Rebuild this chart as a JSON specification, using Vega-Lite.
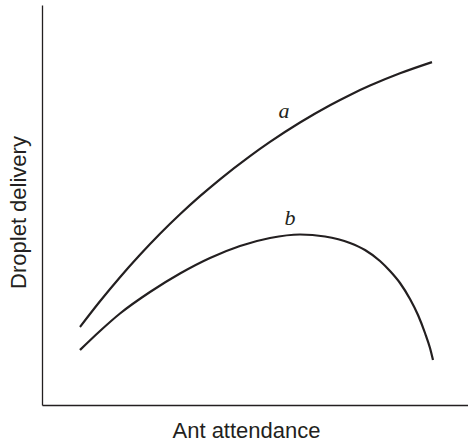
{
  "$schema": "https://vega.github.io/schema/vega-lite/v6.json",
  "autosize": "none",
  "width": 426,
  "height": 400,
  "padding": {"left": 42, "top": 5, "right": 0, "bottom": 40},
  "background": "white",
  "config": {
    "view": {"stroke": null},
    "axis": {
      "grid": false, "ticks": false, "labels": false,
      "domainColor": "#231f20", "domainWidth": 1.3,
      "titleFont": "Liberation Sans", "titleFontSize": 22, "titleFontWeight": "normal", "titleColor": "#231f20"
    }
  },
  "datasets": {
    "curves": [
      {"curve": "a", "att": 38, "del": 78},
      {"curve": "a", "att": 58, "del": 103.7},
      {"curve": "a", "att": 78, "del": 127.8},
      {"curve": "a", "att": 98, "del": 150.2},
      {"curve": "a", "att": 118, "del": 171.2},
      {"curve": "a", "att": 138, "del": 190.7},
      {"curve": "a", "att": 158, "del": 208.8},
      {"curve": "a", "att": 178, "del": 225.7},
      {"curve": "a", "att": 208, "del": 248.9},
      {"curve": "a", "att": 228, "del": 263.1},
      {"curve": "a", "att": 258, "del": 282.5},
      {"curve": "a", "att": 288, "del": 299.8},
      {"curve": "a", "att": 308, "del": 310.1},
      {"curve": "a", "att": 328, "del": 319.4},
      {"curve": "a", "att": 358, "del": 331.7},
      {"curve": "a", "att": 390, "del": 342.9},
      {"curve": "b", "att": 38, "del": 55},
      {"curve": "b", "att": 58, "del": 74},
      {"curve": "b", "att": 78, "del": 91.5},
      {"curve": "b", "att": 108, "del": 113},
      {"curve": "b", "att": 138, "del": 131.5},
      {"curve": "b", "att": 168, "del": 147},
      {"curve": "b", "att": 198, "del": 159},
      {"curve": "b", "att": 228, "del": 167},
      {"curve": "b", "att": 258, "del": 170.5},
      {"curve": "b", "att": 283, "del": 168.5},
      {"curve": "b", "att": 308, "del": 162},
      {"curve": "b", "att": 323, "del": 155},
      {"curve": "b", "att": 338, "del": 144},
      {"curve": "b", "att": 348, "del": 134},
      {"curve": "b", "att": 358, "del": 122},
      {"curve": "b", "att": 368, "del": 106},
      {"curve": "b", "att": 376, "del": 90},
      {"curve": "b", "att": 383, "del": 72},
      {"curve": "b", "att": 388, "del": 57},
      {"curve": "b", "att": 391, "del": 45}
    ],
    "labels": [
      {"curve": "a", "att": 242, "del": 287},
      {"curve": "b", "att": 248, "del": 180}
    ]
  },
  "layer": [
    {
      "data": {"name": "curves"},
      "mark": {"type": "line", "interpolate": "monotone", "color": "#231f20", "strokeWidth": 2.2},
      "encoding": {
        "x": {"field": "att", "type": "quantitative", "scale": {"domain": [0, 426], "nice": false, "zero": false},
              "axis": {"title": "Ant attendance", "titleX": 204, "titleY": 32, "titleBaseline": "alphabetic", "titleAnchor": null}},
        "y": {"field": "del", "type": "quantitative", "scale": {"domain": [0, 400], "nice": false, "zero": false},
              "axis": {"title": "Droplet delivery", "titleX": -24, "titleY": 207, "titleBaseline": "middle", "titleAlign": "center", "titleAngle": -90}},
        "detail": {"field": "curve"}
      }
    },
    {
      "data": {"name": "labels"},
      "mark": {"type": "text", "font": "Liberation Serif", "fontStyle": "italic", "fontSize": 22, "color": "#231f20", "baseline": "alphabetic", "align": "center"},
      "encoding": {
        "x": {"field": "att", "type": "quantitative"},
        "y": {"field": "del", "type": "quantitative"},
        "text": {"field": "curve"}
      }
    }
  ]
}
